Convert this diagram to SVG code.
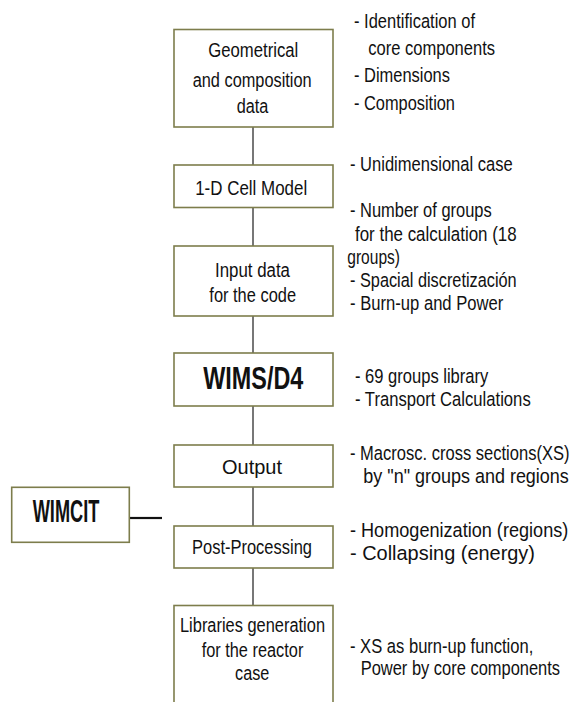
<svg xmlns="http://www.w3.org/2000/svg" width="576" height="702" viewBox="0 0 576 702">
<style>
.box{fill:#ffffff;stroke:#7d7d4c;stroke-width:1.6}
.con{stroke:#555555;stroke-width:1.6;fill:none}
.t{font-family:"Liberation Sans",Arial,sans-serif;font-size:19.5px;fill:#111111}
.c{text-anchor:middle}
.b{font-weight:bold;font-size:32px}
</style>
<rect width="576" height="702" fill="#ffffff"/>
<g id="connectors">
<line class="con" x1="253" y1="127" x2="253" y2="165"/>
<line class="con" x1="253" y1="207" x2="253" y2="246"/>
<line class="con" x1="253" y1="316" x2="253" y2="353"/>
<line class="con" x1="253" y1="406" x2="253" y2="445"/>
<line class="con" x1="253" y1="487" x2="253" y2="526"/>
<line class="con" x1="253" y1="568" x2="253" y2="605"/>
<line x1="130" y1="518" x2="162" y2="518" stroke="#111111" stroke-width="2.2"/>
</g>
<g id="geometrical">
<rect class="box" x="174" y="29.5" width="159" height="97.5"/>
<text class="t c" x="253.3" y="57.3" textLength="90" lengthAdjust="spacingAndGlyphs">Geometrical</text>
<text class="t c" x="252.2" y="86.7" textLength="119" lengthAdjust="spacingAndGlyphs">and composition</text>
<text class="t c" x="252.5" y="112.7" textLength="31.6" lengthAdjust="spacingAndGlyphs">data</text>
</g>
<g id="cellmodel">
<rect class="box" x="174" y="165" width="159" height="42.5"/>
<text class="t c" x="251.2" y="195" textLength="112" lengthAdjust="spacingAndGlyphs">1-D Cell Model</text>
</g>
<g id="inputdata">
<rect class="box" x="174" y="246" width="159" height="70"/>
<text class="t c" x="252.5" y="276.7" textLength="75" lengthAdjust="spacingAndGlyphs">Input data</text>
<text class="t c" x="252.7" y="301.7" textLength="86.7" lengthAdjust="spacingAndGlyphs">for the code</text>
</g>
<g id="wims">
<rect class="box" x="174" y="353" width="159" height="53"/>
<text class="t c b" x="253.3" y="389.3" textLength="100" lengthAdjust="spacingAndGlyphs">WIMS/D4</text>
</g>
<g id="output">
<rect class="box" x="174" y="445" width="159" height="42"/>
<text class="t c" x="252" y="473.5" textLength="60" lengthAdjust="spacingAndGlyphs">Output</text>
</g>
<g id="postprocessing">
<rect class="box" x="174" y="526" width="159" height="42"/>
<text class="t c" x="252" y="554.3" textLength="120" lengthAdjust="spacingAndGlyphs">Post-Processing</text>
</g>
<g id="libraries">
<rect class="box" x="174" y="605.5" width="159" height="110"/>
<text class="t c" x="252.5" y="631.7" textLength="145" lengthAdjust="spacingAndGlyphs">Libraries generation</text>
<text class="t c" x="252.5" y="657.3" textLength="101.7" lengthAdjust="spacingAndGlyphs">for the reactor</text>
<text class="t c" x="252.2" y="680" textLength="34.3" lengthAdjust="spacingAndGlyphs">case</text>
</g>
<g id="wimcit">
<rect class="box" x="11.7" y="487.3" width="117.6" height="55"/>
<text class="t b" x="32.7" y="521.7" textLength="66.7" lengthAdjust="spacingAndGlyphs">WIMCIT</text>
</g>
<g id="notes">
<text class="t" transform="translate(354,28.3) scale(0.85,1)" textLength="142.4" lengthAdjust="spacingAndGlyphs">- Identification of</text>
<text class="t" transform="translate(368.3,55) scale(0.85,1)" textLength="149.1" lengthAdjust="spacingAndGlyphs">core components</text>
<text class="t" transform="translate(354,82) scale(0.85,1)" textLength="112.9" lengthAdjust="spacingAndGlyphs">- Dimensions</text>
<text class="t" transform="translate(354,109.7) scale(0.85,1)" textLength="118.8" lengthAdjust="spacingAndGlyphs">- Composition</text>
<text class="t" transform="translate(350,170.7) scale(0.85,1)" textLength="191.4" lengthAdjust="spacingAndGlyphs">- Unidimensional case</text>
<text class="t" transform="translate(350,217.3) scale(0.85,1)" textLength="166.7" lengthAdjust="spacingAndGlyphs">- Number of groups</text>
<text class="t" transform="translate(355,240.5) scale(0.85,1)" textLength="190.2" lengthAdjust="spacingAndGlyphs">for the calculation (18</text>
<text class="t" transform="translate(347.3,263.5) scale(0.85,1)" textLength="62" lengthAdjust="spacingAndGlyphs">groups)</text>
<text class="t" transform="translate(350,287.2) scale(0.85,1)" textLength="196.1" lengthAdjust="spacingAndGlyphs">- Spacial discretización</text>
<text class="t" transform="translate(350,309.5) scale(0.85,1)" textLength="180.4" lengthAdjust="spacingAndGlyphs">- Burn-up and Power</text>
<text class="t" transform="translate(355,383.3) scale(0.85,1)" textLength="156.8" lengthAdjust="spacingAndGlyphs">- 69 groups library</text>
<text class="t" transform="translate(355,406) scale(0.85,1)" textLength="206.7" lengthAdjust="spacingAndGlyphs">- Transport Calculations</text>
<text class="t" transform="translate(350,460) scale(0.85,1)" textLength="258.2" lengthAdjust="spacingAndGlyphs">- Macrosc. cross sections(XS)</text>
<text class="t" transform="translate(363.3,482.7) scale(0.85,1)" textLength="241.8" lengthAdjust="spacingAndGlyphs">by "n" groups and regions</text>
<text class="t" transform="translate(350,537.3) scale(0.85,1)" textLength="256.8" lengthAdjust="spacingAndGlyphs">- Homogenization (regions)</text>
<text class="t" transform="translate(350,560) scale(0.85,1)" textLength="217.6" lengthAdjust="spacingAndGlyphs">- Collapsing (energy)</text>
<text class="t" transform="translate(350,653.3) scale(0.85,1)" textLength="215.6" lengthAdjust="spacingAndGlyphs">- XS as burn-up function,</text>
<text class="t" transform="translate(360.7,675) scale(0.85,1)" textLength="234.5" lengthAdjust="spacingAndGlyphs">Power by core components</text>
</g>
</svg>
